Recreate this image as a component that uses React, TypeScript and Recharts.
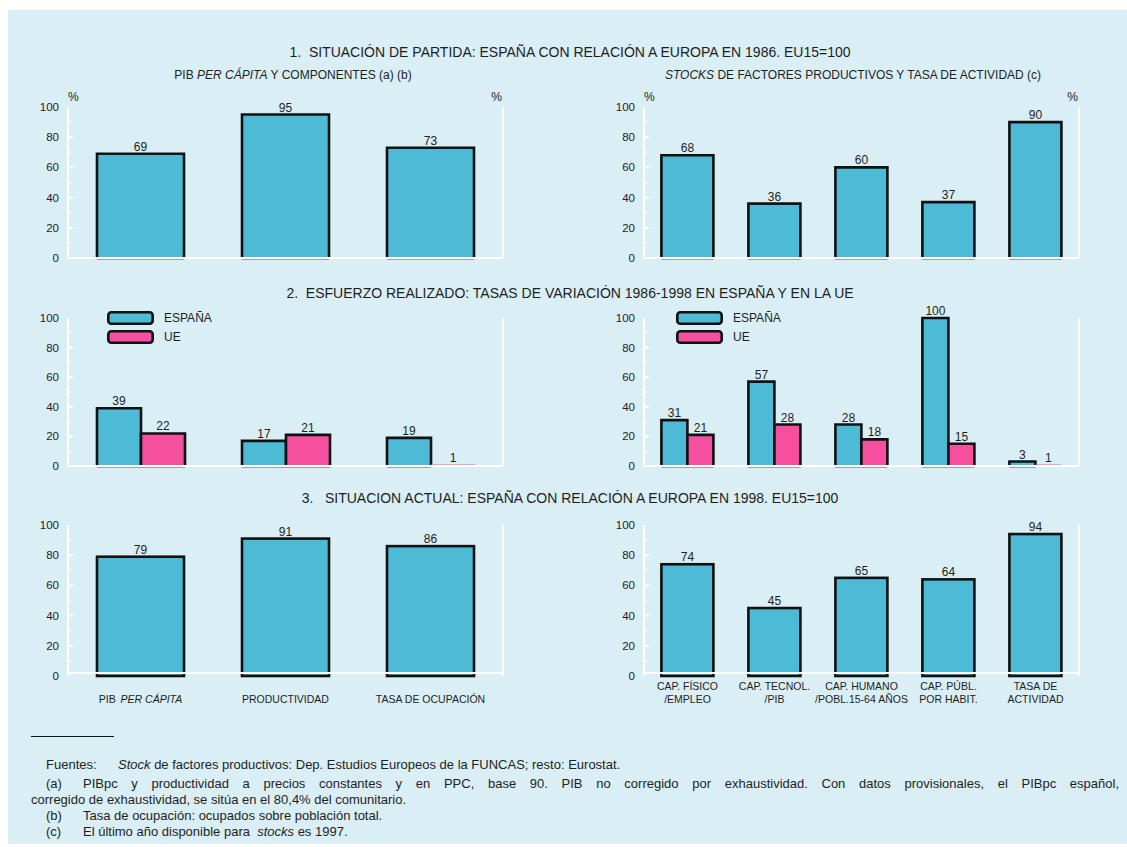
import React from 'react';
import { BarChart, Bar, XAxis, YAxis, LabelList, ReferenceLine, Legend } from 'recharts';

// ---------- data ----------
const CAT_PIB = ['PIB PER CÁPITA', 'PRODUCTIVIDAD', 'TASA DE OCUPACIÓN'];
const CAT_STOCK = [
  'CAP. FÍSICO\n/EMPLEO',
  'CAP. TECNOL.\n/PIB',
  'CAP. HUMANO\n/POBL.15-64 AÑOS',
  'CAP. PÚBL.\nPOR HABIT.',
  'TASA DE\nACTIVIDAD',
];
const PIB_1986 = [69, 95, 73];
const STOCK_1986 = [68, 36, 60, 37, 90];
const PIB_VAR_ESP = [39, 17, 19];
const PIB_VAR_UE = [22, 21, 1];
const STOCK_VAR_ESP = [31, 57, 28, 100, 3];
const STOCK_VAR_UE = [21, 28, 18, 15, 1];
const PIB_1998 = [79, 91, 86];
const STOCK_1998 = [74, 45, 65, 64, 94];
const Y_TICKS = [0, 10, 20, 30, 40, 50, 60, 70, 80, 90, 100];
const SERIES_NAMES = ['ESPAÑA', 'UE'];
const ITALIC_PHRASES = ['PER CÁPITA'];

// ---------- style ----------
const BG = '#d9eef5';
const CYAN = '#4dbad6';
const PINK = '#f4509f';
const INK = '#1e1e1e';
const FONT = '"Liberation Sans", Arial, Helvetica, sans-serif';

const rows1 = (cats: string[], a: number[]) => cats.map((name, i) => ({ name, esp: a[i] }));
const rows2 = (cats: string[], a: number[], b: number[]) =>
  cats.map((name, i) => ({ name, esp: a[i], ue: b[i] }));

function BarShape(props: any) {
  const { x, y, width, height, fill, closed } = props;
  if (!(height > 0)) return null;
  if (height < 4) return <rect x={x} y={y} width={width} height={height} fill={fill} />;
  const sw = 2.6;
  return (
    <g>
      <rect x={x} y={y} width={width} height={height} fill={fill} />
      {closed ? (
        <rect x={x} y={y} width={width} height={height} fill="none" stroke="#111" strokeWidth={sw} />
      ) : (
        <>
          <path
            d={`M${x},${y + height} V${y} H${x + width} V${y + height}`}
            fill="none"
            stroke="#111"
            strokeWidth={sw}
          />
          <line x1={x} x2={x + width} y1={y + height + 1.5} y2={y + height + 1.5} stroke="#a0a0a0" strokeWidth={1} />
        </>
      )}
    </g>
  );
}

const LeftTick = (p: any) => {
  const v = p.payload.value;
  const major = v % 20 === 0;
  const ax = p.x + 9;
  return (
    <g>
      {v > 0 && v < 100 && (
        <line x1={ax} x2={ax + (major ? 5 : 3)} y1={p.y} y2={p.y} stroke="#fff" strokeWidth={2} />
      )}
      {major && (
        <text x={p.x} y={p.y} dy={4} textAnchor="end" fontSize={11.5} fill={INK}>
          {v}
        </text>
      )}
    </g>
  );
};

const RightTick = (p: any) => {
  const v = p.payload.value;
  const major = v % 20 === 0;
  const ax = p.x - 10;
  return (
    <g>
      {v > 0 && v < 100 && (
        <line x1={ax} x2={ax - (major ? 5 : 3)} y1={p.y} y2={p.y} stroke="#fff" strokeWidth={2} />
      )}
      {major && (
        <text x={p.x} y={p.y} dy={4} textAnchor="start" fontSize={11.5} fill={INK}>
          {v}
        </text>
      )}
    </g>
  );
};

function renderLine(ln: string) {
  for (const ph of ITALIC_PHRASES) {
    const idx = ln.indexOf(ph);
    if (idx >= 0) {
      return (
        <>
          <tspan>{ln.slice(0, idx)}</tspan>
          <tspan fontStyle="italic" dx={2}>{ph}</tspan>
          <tspan>{ln.slice(idx + ph.length)}</tspan>
        </>
      );
    }
  }
  return ln;
}

const XTick = (p: any) => {
  const label: string = String(p.payload.value);
  const lines = label.split('\n');
  const ys = lines.length === 1 ? [27] : [14, 27];
  return (
    <g>
      {lines.map((ln, i) => (
        <text key={i} x={p.x} y={p.y + ys[i]} textAnchor="middle" fontSize={10.5} fill={INK}>
          {renderLine(ln)}
        </text>
      ))}
    </g>
  );
};

const LegendContent = (props: any) => {
  const items = (props.payload ?? []) as any[];
  const colors = [CYAN, PINK];
  return (
    <div style={{ fontFamily: FONT }}>
      {SERIES_NAMES.map((name, i) => {
        const e = items.find((it) => it.value === name);
        const color = (e && e.color) || colors[i];
        return (
          <div key={name} style={{ display: 'flex', alignItems: 'center', height: 14, marginBottom: 5 }}>
            <svg width={47} height={14} style={{ display: 'block' }}>
              <rect x={1.3} y={1.3} width={44.4} height={11.4} rx={3} fill={color} stroke="#111" strokeWidth={2.6} />
            </svg>
            <span style={{ marginLeft: 10, fontSize: 12, color: INK }}>{name}</span>
          </div>
        );
      })}
    </div>
  );
};

type Series = { key: string; name: string; color: string };

function Panel(props: {
  left: number;
  top: number;
  plotH: number;
  rows: any[];
  series: Series[];
  legendLeft?: number;
  showX?: boolean;
  baseVal: number;
  closed?: boolean;
}) {
  const { left, top, plotH, rows, series, legendLeft, showX, baseVal, closed } = props;
  const MT = 22;
  const XH = showX ? 36 : 0;
  const MB = showX ? 0 : 6;
  const height = MT + plotH + XH + MB;
  return (
    <div style={{ position: 'absolute', left, top }}>
      <BarChart
        width={515}
        height={height}
        data={rows}
        margin={{ top: MT, right: 0, bottom: MB, left: 0 }}
        barCategoryGap="20%"
        barGap={0}
      >
        <XAxis
          dataKey="name"
          hide={!showX}
          axisLine={false}
          tickLine={false}
          tickSize={0}
          tickMargin={0}
          interval={0}
          height={XH}
          tick={<XTick />}
        />
        <YAxis
          yAxisId="l"
          orientation="left"
          width={40}
          domain={[0, 100]}
          ticks={Y_TICKS}
          interval={0}
          axisLine={{ stroke: '#fff', strokeWidth: 2 }}
          tickLine={false}
          tickSize={0}
          tickMargin={9}
          tick={<LeftTick />}
        />
        <YAxis
          yAxisId="r"
          orientation="right"
          width={40}
          domain={[0, 100]}
          ticks={Y_TICKS}
          interval={0}
          axisLine={{ stroke: '#fff', strokeWidth: 2 }}
          tickLine={false}
          tickSize={0}
          tickMargin={10}
          tick={<RightTick />}
        />
        {series.map((s) => (
          <Bar
            key={s.key}
            yAxisId="l"
            dataKey={s.key}
            name={s.name}
            fill={s.color}
            isAnimationActive={false}
            shape={(p: any) => <BarShape {...p} closed={closed} />}
          >
            <LabelList dataKey={s.key} position="top" offset={3} fontSize={12} fill={INK} />
          </Bar>
        ))}
        <ReferenceLine yAxisId="l" y={baseVal} stroke="#fff" strokeWidth={2} />
        {legendLeft !== undefined && (
          <Legend
            layout="vertical"
            align="center"
            verticalAlign="middle"
            content={<LegendContent />}
            wrapperStyle={{ left: legendLeft, top: 15, width: 'auto' }}
          />
        )}
      </BarChart>
    </div>
  );
}

const ONE: Series[] = [{ key: 'esp', name: SERIES_NAMES[0], color: CYAN }];
const TWO: Series[] = [
  { key: 'esp', name: SERIES_NAMES[0], color: CYAN },
  { key: 'ue', name: SERIES_NAMES[1], color: PINK },
];

const abs = (left: number, top: number, extra: React.CSSProperties = {}): React.CSSProperties => ({
  position: 'absolute',
  left,
  top,
  whiteSpace: 'nowrap',
  ...extra,
});

export default function App() {
  const LX = 28;
  const RX = 604;
  return (
    <div
      style={{
        position: 'relative',
        width: 1127,
        height: 847,
        background: '#fff',
        fontFamily: FONT,
        color: INK,
        overflow: 'hidden',
      }}
    >
      <style>{'body{margin:0}'}</style>
      <div style={{ position: 'absolute', left: 8, top: 10, width: 1119, height: 834, background: BG }} />

      {/* titles */}
      <div style={abs(170, 44, { width: 800, textAlign: 'center', fontSize: 14, lineHeight: '16px' })}>
        1.&nbsp; SITUACIÓN DE PARTIDA: ESPAÑA CON RELACIÓN A EUROPA EN 1986. EU15=100
      </div>
      <div style={abs(93, 67, { width: 400, textAlign: 'center', fontSize: 12, lineHeight: '16px' })}>
        PIB <i>PER CÁPITA</i> Y COMPONENTES (a) (b)
      </div>
      <div style={abs(653, 67, { width: 400, textAlign: 'center', fontSize: 12, lineHeight: '16px' })}>
        <i>STOCKS</i> DE FACTORES PRODUCTIVOS Y TASA DE ACTIVIDAD (c)
      </div>
      <div style={abs(170, 285, { width: 800, textAlign: 'center', fontSize: 14, lineHeight: '16px' })}>
        2.&nbsp; ESFUERZO REALIZADO: TASAS DE VARIACIÓN 1986-1998 EN ESPAÑA Y EN LA UE
      </div>
      <div style={abs(170, 490, { width: 800, textAlign: 'center', fontSize: 14, lineHeight: '16px' })}>
        3.&nbsp;&nbsp; SITUACION ACTUAL: ESPAÑA CON RELACIÓN A EUROPA EN 1998. EU15=100
      </div>

      {/* % marks */}
      <div style={abs(68, 89, { fontSize: 12, lineHeight: '16px' })}>%</div>
      <div style={abs(392, 89, { fontSize: 12, lineHeight: '16px', width: 110, textAlign: 'right' })}>%</div>
      <div style={abs(644, 89, { fontSize: 12, lineHeight: '16px' })}>%</div>
      <div style={abs(968, 89, { fontSize: 12, lineHeight: '16px', width: 110, textAlign: 'right' })}>%</div>

      {/* panels */}
      <Panel left={LX} top={85} plotH={151} rows={rows1(CAT_PIB, PIB_1986)} series={ONE} baseVal={0} />
      <Panel left={RX} top={85} plotH={151} rows={rows1(CAT_STOCK, STOCK_1986)} series={ONE} baseVal={0} />
      <Panel
        left={LX}
        top={296}
        plotH={148}
        rows={rows2(CAT_PIB, PIB_VAR_ESP, PIB_VAR_UE)}
        series={TWO}
        baseVal={0}
        legendLeft={79}
      />
      <Panel
        left={RX}
        top={296}
        plotH={148}
        rows={rows2(CAT_STOCK, STOCK_VAR_ESP, STOCK_VAR_UE)}
        series={TWO}
        baseVal={0}
        legendLeft={72}
      />
      <Panel left={LX} top={503} plotH={151} rows={rows1(CAT_PIB, PIB_1998)} series={ONE} baseVal={2} closed showX />
      <Panel left={RX} top={503} plotH={151} rows={rows1(CAT_STOCK, STOCK_1998)} series={ONE} baseVal={2} closed showX />

      {/* footnotes */}
      <div style={{ position: 'absolute', left: 31, top: 736, width: 83, borderTop: '1px solid #111' }} />
      <div style={{ position: 'absolute', left: 31, top: 757, width: 1088, fontSize: 13, lineHeight: '16px' }}>
        <div style={{ paddingLeft: 15, marginBottom: 3, whiteSpace: 'nowrap' }}>
          <span style={{ display: 'inline-block', width: 72 }}>Fuentes:</span>
          <i>Stock</i> de factores productivos: Dep. Estudios Europeos de la FUNCAS; resto: Eurostat.
        </div>
        <div style={{ paddingLeft: 15, textAlign: 'justify', textAlignLast: 'justify', whiteSpace: 'nowrap' }}>
          <span style={{ display: 'inline-block', width: 37 }}>(a)</span>
          PIBpc y productividad a precios constantes y en PPC, base 90. PIB no corregido por exhaustividad. Con datos provisionales, el PIBpc español,
        </div>
        <div>corregido de exhaustividad, se sitúa en el 80,4% del comunitario.</div>
        <div style={{ paddingLeft: 15 }}>
          <span style={{ display: 'inline-block', width: 37 }}>(b)</span>
          Tasa de ocupación: ocupados sobre población total.
        </div>
        <div style={{ paddingLeft: 15 }}>
          <span style={{ display: 'inline-block', width: 37 }}>(c)</span>
          El último año disponible para&nbsp; <i>stocks</i> es 1997.
        </div>
      </div>
    </div>
  );
}
